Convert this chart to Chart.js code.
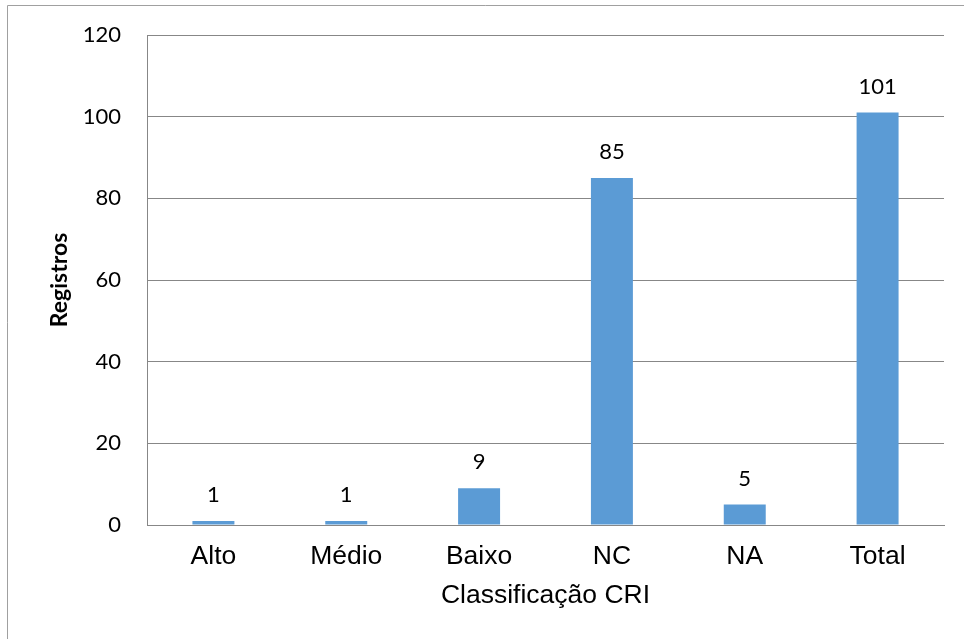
<!DOCTYPE html>
<html>
<head>
<meta charset="utf-8">
<script src="https://cdn.jsdelivr.net/npm/chart.js@4/dist/chart.umd.min.js"></script>
<style>
  html, body { margin: 0; padding: 0; background: #fff; }
  #wrap { width: 964px; height: 639px; position: relative; }
</style>
</head>
<body>
<div id="wrap"><canvas id="c" width="964" height="639"></canvas></div>
<script>
// Registros por classificação CRI
const categories = ['Alto', 'Médio', 'Baixo', 'NC', 'NA', 'Total'];
const registros = [1, 1, 9, 85, 5, 101];
const yTicks = [0, 20, 40, 60, 80, 100, 120];

const BAR_COLOR = '#5B9BD5';
const GRID_COLOR = '#878787';
const NUM_FONT = 'Lato, "Open Sans", sans-serif';
const CAT_FONT = '"Liberation Sans", Arial, sans-serif';

// Frame around the chart (left and top edges)
const framePlugin = {
  id: 'frame',
  beforeDraw(chart) {
    const ctx = chart.ctx;
    ctx.save();
    ctx.strokeStyle = '#a0a0a0';
    ctx.lineWidth = 1;
    ctx.beginPath();
    ctx.moveTo(7.5, chart.height);
    ctx.lineTo(7.5, 5.5);
    ctx.lineTo(chart.width, 5.5);
    ctx.stroke();
    ctx.restore();
  }
};

// Value labels above each bar
const valueLabels = {
  id: 'valueLabels',
  afterDatasetsDraw(chart) {
    const ctx = chart.ctx;
    const meta = chart.getDatasetMeta(0);
    ctx.save();
    ctx.font = '22px ' + NUM_FONT;
    ctx.fillStyle = '#000';
    ctx.textAlign = 'center';
    ctx.textBaseline = 'middle';
    meta.data.forEach((bar, i) => {
      ctx.fillText(String(chart.data.datasets[0].data[i]), bar.x, bar.y - 26);
    });
    ctx.restore();
  }
};

new Chart(document.getElementById('c'), {
  type: 'bar',
  data: {
    labels: categories,
    datasets: [{
      data: registros,
      backgroundColor: BAR_COLOR,
      borderWidth: 0,
      barPercentage: 0.316,
      categoryPercentage: 1.0
    }]
  },
  options: {
    responsive: false,
    animation: false,
    devicePixelRatio: 1,
    layout: { padding: { top: 35, right: 20, left: 0, bottom: 0 } },
    plugins: { legend: { display: false }, tooltip: { enabled: false } },
    scales: {
      x: {
        grid: { display: false, drawTicks: false },
        border: { display: true, color: GRID_COLOR, width: 1 },
        ticks: {
          color: '#000',
          font: { family: CAT_FONT, size: 26.5 },
          padding: 16,
          maxRotation: 0
        },
        title: {
          display: true,
          text: 'Classificação CRI',
          color: '#000',
          font: { family: CAT_FONT, size: 26.5 },
          padding: { top: 0, bottom: 27 }
        },
        afterFit(scale) {
          scale.height = 114;
          scale.paddingLeft = 0;
          scale.paddingRight = 0;
        }
      },
      y: {
        min: 0,
        max: 120,
        afterBuildTicks(scale) { scale.ticks = yTicks.map(v => ({ value: v })); },
        grid: { color: GRID_COLOR, lineWidth: 1, drawTicks: false },
        border: { display: true, color: GRID_COLOR, width: 1 },
        ticks: {
          color: '#000',
          font: { family: NUM_FONT, size: 22 },
          padding: 26
        },
        title: {
          display: true,
          text: 'Registros',
          color: '#000',
          font: { family: NUM_FONT, size: 23, weight: 'bold' },
          padding: { top: 46, bottom: 0 }
        },
        afterFit(scale) {
          scale.width = 147;
          scale.paddingTop = 0;
          scale.paddingBottom = 0;
        }
      }
    }
  },
  plugins: [framePlugin, valueLabels]
});
</script>
</body>
</html>
